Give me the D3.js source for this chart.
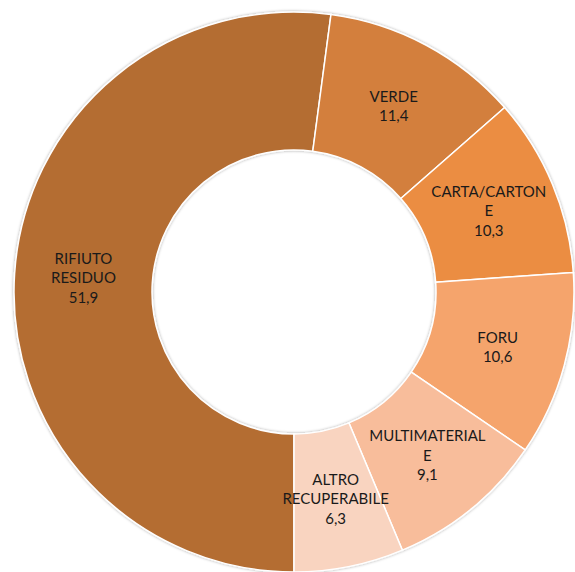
<!DOCTYPE html>
<html>
<head>
<meta charset="utf-8">
<script src="https://cdn.jsdelivr.net/npm/d3@7"></script>
<style>
  html, body { margin: 0; padding: 0; background: #fff; }
</style>
</head>
<body>
<svg id="viz"></svg>
<script>
/* Data */

const categories = ["RIFIUTO RESIDUO", "VERDE", "CARTA/CARTONE", "FORU", "MULTIMATERIALE", "ALTRO RECUPERABILE"];
const values = [51.9, 11.4, 10.3, 10.6, 9.1, 6.3];
const labelLines = [
  ["RIFIUTO", "RESIDUO"],
  ["VERDE"],
  ["CARTA/CARTON", "E"],
  ["FORU"],
  ["MULTIMATERIAL", "E"],
  ["ALTRO", "RECUPERABILE"]
];
const colors = ["#b46d33", "#d37f3c", "#eb8d43", "#f5a46c", "#f8bd9b", "#f9d4c0"];

/* Environment */

const width = 575;
const height = 572;
const cx = 294, cy = 292;
const outerR = 280, innerR = 142;

const svg = d3.select("#viz")
    .attr("width", width)
    .attr("height", height);

const defs = svg.append("defs");
defs.append("filter")
    .attr("id", "shadow")
    .attr("x", "-10%").attr("y", "-10%")
    .attr("width", "120%").attr("height", "120%")
  .append("feDropShadow")
    .attr("dx", 0).attr("dy", 0)
    .attr("stdDeviation", 1.5)
    .attr("flood-color", "#000")
    .attr("flood-opacity", 0.35);

const data = categories.map((c, i) => ({name: c, value: values[i], lines: labelLines[i], color: colors[i]}));

/* Pie */

const pie = d3.pie()
    .value(d => d.value)
    .sort(null)
    .startAngle(Math.PI)
    .endAngle(3 * Math.PI);

const arc = d3.arc()
    .innerRadius(innerR)
    .outerRadius(outerR);

const g = svg.append("g")
    .attr("transform", `translate(${cx},${cy})`);

g.append("g")
    .attr("filter", "url(#shadow)")
  .selectAll("path")
  .data(pie(data))
  .enter().append("path")
    .attr("d", arc)
    .attr("fill", d => d.data.color)
    .attr("stroke", "#fff")
    .attr("stroke-width", 1.5);

/* Labels */

const lineH = 19.5;

const labels = g.append("g")
    .attr("font-family", "Lato, 'Open Sans', sans-serif")
    .attr("font-size", 15)
    .attr("fill", "#1a1a1a")
    .attr("text-anchor", "middle")
  .selectAll("text")
  .data(pie(data))
  .enter().append("text")
    .attr("transform", d => `translate(${arc.centroid(d)})`);

labels.each(function(d) {
  const lines = d.data.lines.concat([String(d.data.value).replace(".", ",")]);
  const y0 = -(lines.length - 1) * lineH / 2;
  d3.select(this).selectAll("tspan")
    .data(lines)
    .enter().append("tspan")
      .attr("x", 0)
      .attr("y", (l, i) => y0 + i * lineH)
      .attr("dy", "0.35em")
      .text(l => l);
});
</script>
</body>
</html>
